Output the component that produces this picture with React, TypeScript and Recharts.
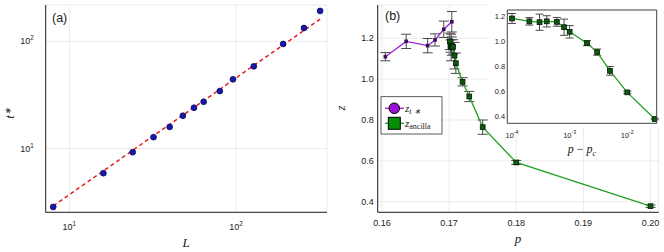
import React from "react";
import { ComposedChart, Scatter, XAxis, YAxis, CartesianGrid, ErrorBar, ReferenceArea } from "recharts";

// panel (a): t* vs L
const sizes = [8, 16, 24, 32, 40, 48, 56, 64, 80, 96, 128, 192, 256, 320];
const tStar = [2.85, 5.88, 9.23, 12.75, 15.9, 20.2, 24.0, 27.3, 34.3, 44.2, 58.4, 94.4, 133, 192];
const fitL = [8, 320];
const fitT = [2.91, 161];

// panel (b): z vs p
const pTstar = [0.1605, 0.1636, 0.1668, 0.1679, 0.1692, 0.1704];
const zTstar = [1.11, 1.185, 1.164, 1.192, 1.244, 1.281];
const zTstarErr = [0.02, 0.035, 0.035, 0.03, 0.04, 0.05];

const pAnc = [0.1701, 0.1702, 0.1703, 0.1704, 0.1706, 0.1708, 0.171, 0.172, 0.173, 0.175, 0.18, 0.2];
const zAnc = [1.185, 1.162, 1.155, 1.162, 1.158, 1.115, 1.078, 0.987, 0.915, 0.765, 0.592, 0.378];
const zAncErr = [0.04, 0.03, 0.065, 0.045, 0.035, 0.065, 0.05, 0.02, 0.025, 0.035, 0.01, 0.006];
const pc = 0.17;

const pTicks = [0.16, 0.17, 0.18, 0.19, 0.2];
const zTicks = [0.4, 0.6, 0.8, 1.0, 1.2];

const SANS = "Liberation Sans, Arial, sans-serif";
const SERIF = "Liberation Serif, Times New Roman, serif";
const GRID = "#ebebeb";
const AXIS = "#222";
const PURPLE = "#9b22d6";
const GREEN = "#21a021";

const dataA = sizes.map((L, i) => ({ x: L, y: tStar[i] }));
const fitA = fitL.map((L, i) => ({ x: L, y: fitT[i] }));
const dataT = pTstar.map((p, i) => ({ p, z: zTstar[i], err: zTstarErr[i] }));
const dataAnc = pAnc.map((p, i) => ({ p, z: zAnc[i], err: zAncErr[i] }));
const dataInset = pAnc.map((p, i) => ({ dp: p - pc, z: zAnc[i], err: zAncErr[i] }));

function PowTick(props: any) {
  const { x, y, payload, side, fs, off } = props;
  const e = Math.round(Math.log10(payload.value));
  if (side === "x") {
    return (
      <text x={x} y={y + off} textAnchor="middle" fontSize={fs} fontFamily={SANS} fill={AXIS}>
        <tspan>10</tspan>
        <tspan dy={-fs * 0.45} fontSize={fs * 0.7}>{e}</tspan>
      </text>
    );
  }
  return (
    <text x={x - off} y={y + fs * 0.35} textAnchor="end" fontSize={fs} fontFamily={SANS} fill={AXIS}>
      <tspan>10</tspan>
      <tspan dy={-fs * 0.45} fontSize={fs * 0.7}>{e}</tspan>
    </text>
  );
}

function NumTick(props: any) {
  const { x, y, payload, side, fs, off, digits } = props;
  const s = Number(payload.value).toFixed(digits);
  if (side === "x") {
    return (
      <text x={x} y={y + off} textAnchor="middle" fontSize={fs} fontFamily={SANS} fill={AXIS}>
        {s}
      </text>
    );
  }
  return (
    <text x={x - off} y={y + fs * 0.35} textAnchor="end" fontSize={fs} fontFamily={SANS} fill={AXIS}>
      {s}
    </text>
  );
}

const dot = (p: any) => <circle cx={p.cx} cy={p.cy} r={2.9} fill="#1818b0" stroke="#0a0a55" strokeWidth={0.8} />;
const noDot = () => <g />;
const purpleSq = (p: any) => <rect x={p.cx - 1.8} y={p.cy - 1.8} width={3.6} height={3.6} fill="#3a0c5c" />;
const greenSq = (p: any) => (
  <rect x={p.cx - 2.4} y={p.cy - 2.4} width={4.8} height={4.8} fill="#0c5a0c" stroke="#061806" strokeWidth={0.8} />
);

function PanelA() {
  return (
    <ComposedChart width={332} height={252} margin={{ top: 5, right: 5, left: 0, bottom: 0 }}>
      <CartesianGrid stroke={GRID} />
      <XAxis
        type="number"
        dataKey="x"
        scale="log"
        domain={[7.21, 352]}
        allowDataOverflow
        ticks={[10, 100]}
        height={39.7}
        tickSize={0}
        tickMargin={0}
        tickLine={false}
        axisLine={{ stroke: AXIS }}
        tick={<PowTick side="x" fs={9} off={17.5} />}
      />
      <YAxis
        type="number"
        dataKey="y"
        scale="log"
        domain={[2.54, 218]}
        allowDataOverflow
        ticks={[10, 100]}
        width={45.7}
        tickSize={0}
        tickMargin={0}
        tickLine={false}
        axisLine={{ stroke: AXIS }}
        tick={<PowTick side="y" fs={9} off={12} />}
      />
      <Scatter
        data={fitA}
        shape={noDot}
        line={{ stroke: "#e3211c", strokeWidth: 1.5, strokeDasharray: "4 3" }}
        isAnimationActive={false}
      />
      <Scatter data={dataA} shape={dot} isAnimationActive={false} />
      <text x={52} y={22} fontSize={12.5} fontFamily={SANS} fill={AXIS}>(a)</text>
      <text x={186} y={247} textAnchor="middle" fontSize={13} fontStyle="italic" fontFamily={SERIF} fill={AXIS}>L</text>
      <text x={14} y={113} textAnchor="middle" fontSize={13} fontStyle="italic" fontFamily={SERIF} fill={AXIS}
        transform="rotate(-90, 14, 113)">
        t<tspan dy={-3} fontSize={9}>∗</tspan>
      </text>
    </ComposedChart>
  );
}

function PanelB() {
  return (
    <ComposedChart width={332} height={252} margin={{ top: 5, right: 5.3, left: 0, bottom: 0 }}>
      <CartesianGrid stroke={GRID} />
      <XAxis
        type="number"
        dataKey="p"
        domain={[0.15936, 0.20122]}
        allowDataOverflow
        ticks={pTicks}
        height={39.7}
        tickSize={0}
        tickMargin={0}
        tickLine={false}
        axisLine={{ stroke: AXIS }}
        tick={<NumTick side="x" fs={9} off={13.7} digits={2} />}
      />
      <YAxis
        type="number"
        dataKey="z"
        domain={[0.348, 1.363]}
        allowDataOverflow
        ticks={zTicks}
        width={45.7}
        tickSize={0}
        tickMargin={0}
        tickLine={false}
        axisLine={{ stroke: AXIS }}
        tick={<NumTick side="y" fs={9} off={4} digits={1} />}
      />
      <Scatter data={dataT} shape={purpleSq} line={{ stroke: PURPLE, strokeWidth: 1.3 }} isAnimationActive={false}>
        <ErrorBar dataKey="err" direction="y" width={5} stroke="#4a4a4a" strokeWidth={1} />
      </Scatter>
      <Scatter data={dataAnc} shape={greenSq} line={{ stroke: GREEN, strokeWidth: 1.3 }} isAnimationActive={false}>
        <ErrorBar dataKey="err" direction="y" width={5} stroke="#4a4a4a" strokeWidth={1} />
      </Scatter>
      <text x={53} y={20} fontSize={12.5} fontFamily={SANS} fill={AXIS}>(b)</text>
      <text x={186} y={243} textAnchor="middle" fontSize={13} fontStyle="italic" fontFamily={SERIF} fill={AXIS}>p</text>
      <text x={13} y={108} textAnchor="middle" fontSize={13} fontStyle="italic" fontFamily={SERIF} fill={AXIS}
        transform="rotate(-90, 13, 108)">z</text>
      <g>
        <rect x={49} y={96.7} width={61} height={37.3} fill="#fff" stroke="#333" strokeWidth={0.8} />
        <line x1={53} y1={108.3} x2={72} y2={108.3} stroke={PURPLE} strokeWidth={1.3} />
        <circle cx={62.3} cy={108.3} r={5.3} fill="#9a12d4" stroke="#000" strokeWidth={1} />
        <line x1={53} y1={123.3} x2={72} y2={123.3} stroke={GREEN} strokeWidth={1.3} />
        <rect x={56.3} y={117.3} width={12} height={12} fill="#078c07" stroke="#000" strokeWidth={1} />
        <text x={73} y={111.5} fontSize={11} fontStyle="italic" fontFamily={SERIF} fill={AXIS}>
          z<tspan dy={2.5} fontSize={8}>t ∗</tspan>
        </text>
        <text x={73} y={126.5} fontSize={11} fontStyle="italic" fontFamily={SERIF} fill={AXIS}>
          z<tspan dy={2.5} fontSize={8} fontStyle="normal">ancilla</tspan>
        </text>
      </g>
    </ComposedChart>
  );
}

function Inset() {
  const dom: [number, number] = [8.28e-5, 0.0324];
  const zdom: [number, number] = [0.344, 1.253];
  return (
    <ComposedChart width={176} height={160} margin={{ top: 10, right: 7.3, left: 0, bottom: 0 }}>
      <ReferenceArea x1={dom[0]} x2={dom[1]} y1={zdom[0]} y2={zdom[1]} fill="#fff" fillOpacity={1} stroke="none" ifOverflow="visible" />
      <CartesianGrid stroke={GRID} />
      <XAxis
        type="number"
        dataKey="dp"
        scale="log"
        domain={dom}
        allowDataOverflow
        ticks={[1e-4, 1e-3, 1e-2]}
        height={36.7}
        tickSize={0}
        tickMargin={0}
        tickLine={false}
        axisLine={false}
        tick={<PowTick side="x" fs={7.5} off={14.5} />}
      />
      <YAxis
        type="number"
        dataKey="z"
        domain={zdom}
        allowDataOverflow
        ticks={zTicks}
        width={19.3}
        tickSize={0}
        tickMargin={0}
        tickLine={false}
        axisLine={false}
        tick={<NumTick side="y" fs={7.5} off={2} digits={1} />}
      />
      <ReferenceArea x1={dom[0]} x2={dom[1]} y1={zdom[0]} y2={zdom[1]} fill="none" stroke="#444" strokeWidth={1} ifOverflow="visible" />
      <Scatter data={dataInset} shape={greenSq} line={{ stroke: GREEN, strokeWidth: 1.3 }} isAnimationActive={false}>
        <ErrorBar dataKey="err" direction="y" width={4} stroke="#4a4a4a" strokeWidth={1} />
      </Scatter>
      <text x={94} y={153} textAnchor="middle" fontSize={12} fontStyle="italic" fontFamily={SERIF} fill={AXIS}>
        p<tspan fontStyle="normal"> − </tspan>p<tspan dy={2.5} fontSize={8}>c</tspan>
      </text>
    </ComposedChart>
  );
}

export default function App() {
  return (
    <div style={{ position: "absolute", left: 0, top: 0, width: 664, height: 252, background: "#fff" }}>
      <div style={{ position: "absolute", left: 0, top: 0 }}>
        <PanelA />
      </div>
      <div style={{ position: "absolute", left: 332, top: 0 }}>
        <PanelB />
      </div>
      <div style={{ position: "absolute", left: 488, top: 0, width: 176, height: 128, background: "#fff" }} />
      <div style={{ position: "absolute", left: 488, top: 0 }}>
        <Inset />
      </div>
    </div>
  );
}
